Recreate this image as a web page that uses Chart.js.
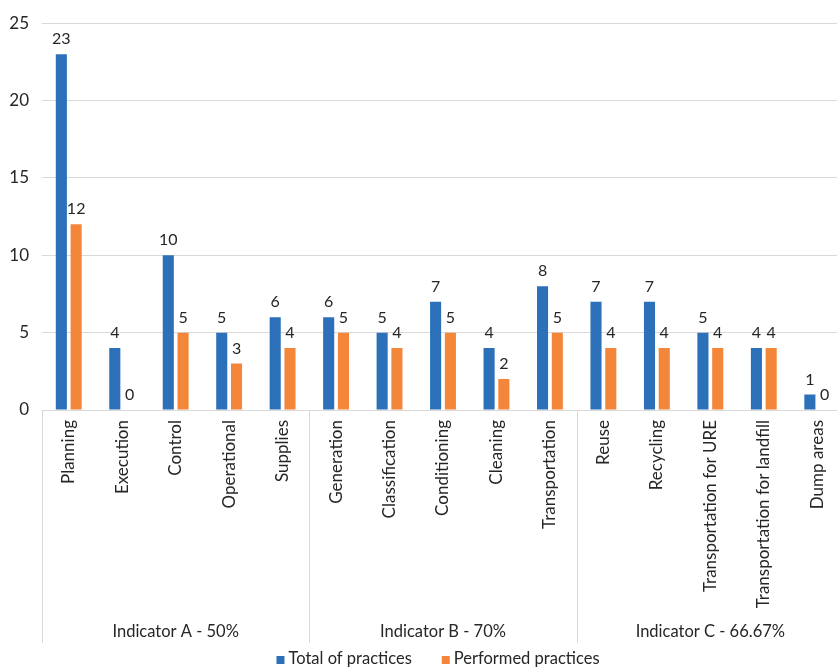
<!DOCTYPE html>
<html>
<head>
<meta charset="utf-8">
<script src="https://cdn.jsdelivr.net/npm/chart.js@4.4.1/dist/chart.umd.min.js"></script>
<style>
  html, body { margin: 0; padding: 0; background: #fff; }
  #wrap { width: 837px; height: 672px; overflow: hidden; }
</style>
</head>
<body>
<div id="wrap"><canvas id="practicesChart" width="876" height="672"></canvas></div>
<script>
const categories = ['Planning', 'Execution', 'Control', 'Operational', 'Supplies',
  'Generation', 'Classification', 'Conditioning', 'Cleaning', 'Transportation',
  'Reuse', 'Recycling', 'Transportation for URE', 'Transportation for landfill', 'Dump areas'];
const totalPractices = [23, 4, 10, 5, 6, 6, 5, 7, 4, 8, 7, 7, 5, 4, 1];
const performedPractices = [12, 0, 5, 3, 4, 5, 4, 5, 2, 5, 4, 4, 4, 4, 0];
const groupNames = ['Indicator A - 50%', 'Indicator B - 70%', 'Indicator C - 66.67%'];
const groupSizes = [5, 5, 5];
const yTicks = [0, 5, 10, 15, 20, 25];

const FONT = 'Lato';
const TEXT = '#262626';
const LINE = '#d9d9d9';

// numbers above each bar
const valueLabels = {
  id: 'valueLabels',
  afterDatasetsDraw(chart) {
    const ctx = chart.ctx;
    ctx.save();
    ctx.font = '16px ' + FONT;
    ctx.fillStyle = TEXT;
    ctx.textAlign = 'center';
    ctx.textBaseline = 'alphabetic';
    chart.data.datasets.forEach((ds, i) => {
      chart.getDatasetMeta(i).data.forEach((bar, j) => {
        ctx.fillText(String(ds.data[j]), bar.x, bar.y - 10);
      });
    });
    ctx.restore();
  }
};

// group separators + group names under the category labels, and the legend
const groupAxis = {
  id: 'groupAxis',
  afterDraw(chart) {
    const ctx = chart.ctx;
    const area = chart.chartArea;
    const step = (area.right - area.left) / categories.length;
    ctx.save();
    ctx.strokeStyle = LINE;
    ctx.lineWidth = 1;
    ctx.font = '16.5px ' + FONT;
    ctx.fillStyle = TEXT;
    ctx.textAlign = 'center';
    ctx.textBaseline = 'alphabetic';
    let start = 0;
    groupSizes.forEach((n, g) => {
      const x0 = area.left + start * step;
      const x1 = area.left + (start + n) * step;
      [x0, x1].forEach(x => {
        ctx.beginPath();
        ctx.moveTo(Math.round(x) + 0.5, area.bottom);
        ctx.lineTo(Math.round(x) + 0.5, 643);
        ctx.stroke();
      });
      ctx.fillText(groupNames[g], (x0 + x1) / 2, 637);
      start += n;
    });

    // legend
    const box = 8, gap = 4, between = 30, base = 664;
    ctx.textAlign = 'left';
    const ds = chart.data.datasets;
    const widths = ds.map(d => ctx.measureText(d.label).width);
    let total = 0;
    widths.forEach((w, i) => { total += box + gap + w + (i ? between : 0); });
    let x = chart.width / 2 - total / 2;
    ds.forEach((d, i) => {
      ctx.fillStyle = d.backgroundColor;
      ctx.fillRect(x, base - box, box, box);
      ctx.fillStyle = TEXT;
      ctx.fillText(d.label, x + box + gap, base);
      x += box + gap + widths[i] + between;
    });
    ctx.restore();
  }
};

const ctx = document.getElementById('practicesChart').getContext('2d');
const chart = new Chart(ctx, {
  type: 'bar',
  data: {
    labels: categories,
    datasets: [{
      label: 'Total of practices',
      data: totalPractices,
      backgroundColor: '#2b70b8',
      barPercentage: 0.75,
      categoryPercentage: 0.553
    }, {
      label: 'Performed practices',
      data: performedPractices,
      backgroundColor: '#f4863a',
      barPercentage: 0.75,
      categoryPercentage: 0.553
    }]
  },
  options: {
    responsive: false,
    animation: false,
    layout: { padding: { top: 20, right: 32, left: 0, bottom: 0 } },
    plugins: {
      legend: { display: false },
      tooltip: { enabled: false }
    },
    scales: {
      x: {
        offset: true,
        grid: { display: true, drawOnChartArea: false, drawTicks: false },
        border: { display: true, color: LINE },
        ticks: {
          autoSkip: false,
          minRotation: 90,
          maxRotation: 90,
          padding: 10,
          color: TEXT,
          font: { family: FONT, size: 17 }
        },
        afterFit(scale) { scale.height = 262; }
      },
      y: {
        min: 0,
        max: 25,
        afterBuildTicks(scale) { scale.ticks = yTicks.map(v => ({ value: v })); },
        grid: { color: LINE, drawTicks: false },
        border: { display: false },
        ticks: {
          padding: 13,
          color: TEXT,
          font: { family: FONT, size: 17 }
        },
        afterFit(scale) { scale.width = 42; }
      }
    }
  },
  plugins: [valueLabels, groupAxis]
});
</script>
</body>
</html>
